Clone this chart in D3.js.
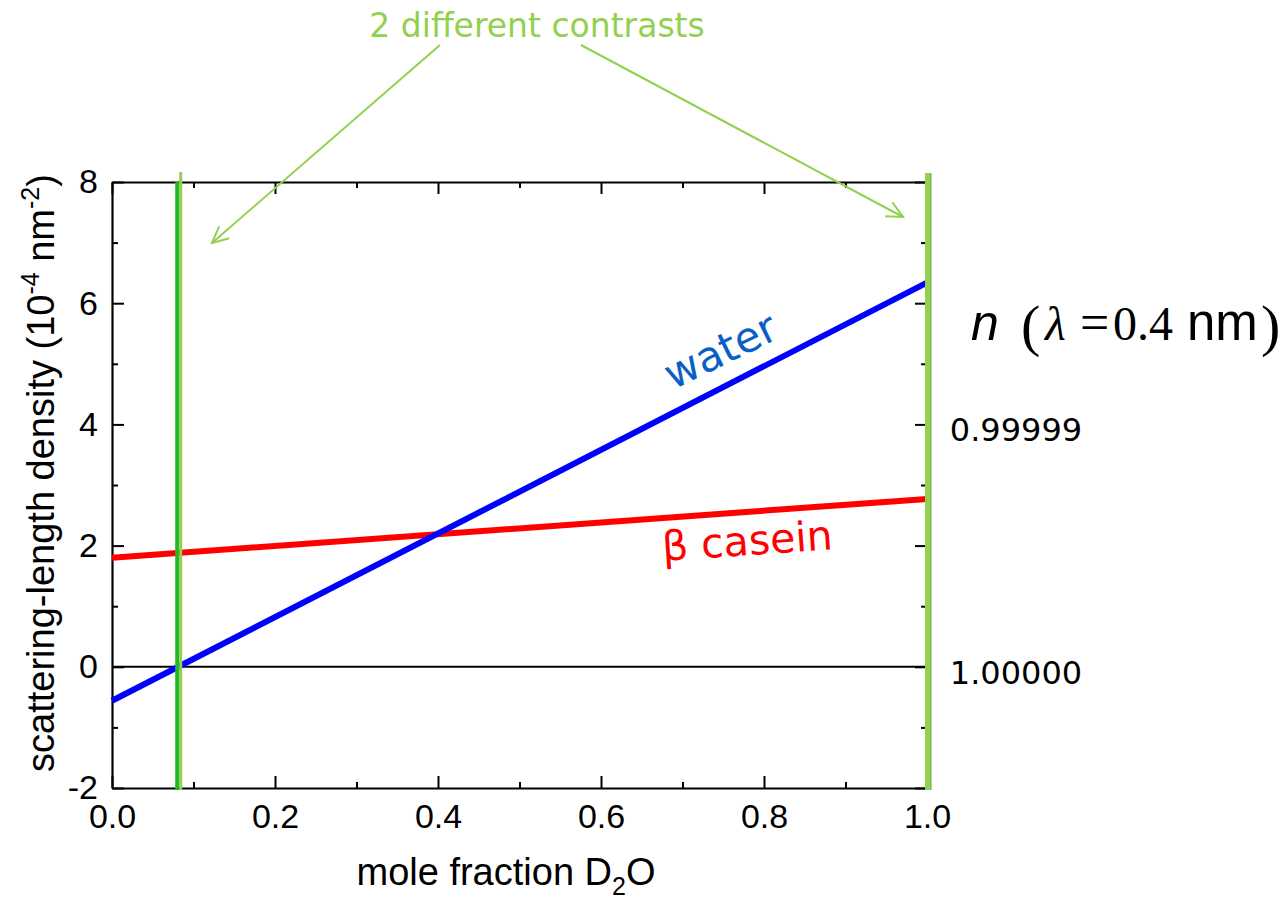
<!DOCTYPE html>
<html><head><meta charset="utf-8">
<script src="https://cdn.jsdelivr.net/npm/d3@7"></script>
<style>body{margin:0;background:#fff}</style>
</head><body>
<svg id="c" width="1283" height="904"></svg>
<script>
// ---- data ----
const xDomain = [0, 1];
const yDomain = [-2, 8];
const xTicks = [0, 0.2, 0.4, 0.6, 0.8, 1.0];
const xMinorTicks = [0.1, 0.3, 0.5, 0.7, 0.9];
const yTicks = [-2, 0, 2, 4, 6, 8];
const yMinorTicks = [-1, 1, 3, 5, 7];
const waterX = [0, 1];
const waterY = [-0.56, 6.34];
const caseinX = [0, 1];
const caseinY = [1.80, 2.77];
const contrastX = [0.08, 1.0];
const rightLabels = ["0.99999", "1.00000"];
const rightLabelY = [4, 0];

const svg = d3.select("#c");
const L = 112, R = 927, T = 182, B = 788;
const x = d3.scaleLinear().domain(xDomain).range([L, R]);
const y = d3.scaleLinear().domain(yDomain).range([B, T]);
const lab = "Liberation Sans, Arial, sans-serif";
const tah = "DejaVu Sans, Verdana, sans-serif";
const serif = "Liberation Serif, Times New Roman, serif";

// zero line
svg.append("line").attr("x1", L).attr("x2", R).attr("y1", y(0)).attr("y2", y(0))
  .attr("stroke", "#000").attr("stroke-width", 2);

// axes
function styleAxis(g){ g.attr("font-size", null).attr("font-family", null);
  g.select(".domain").attr("stroke","#000").attr("stroke-width",2.2);
  g.selectAll(".tick line").attr("stroke","#000").attr("stroke-width",2);
  g.selectAll("text").attr("font-family", lab).attr("font-size", 34).attr("fill","#000"); }

const gB = svg.append("g").attr("transform",`translate(0,${B})`)
  .call(d3.axisBottom(x).tickValues(xTicks).tickFormat(d3.format(".1f")).tickSizeInner(-12).tickSizeOuter(0));
styleAxis(gB);
gB.selectAll("text").attr("y", 40).attr("dy", null);
const gBm = svg.append("g").attr("transform",`translate(0,${B})`)
  .call(d3.axisBottom(x).tickValues(xMinorTicks).tickFormat("").tickSizeInner(-6).tickSizeOuter(0));
styleAxis(gBm); gBm.select(".domain").remove();

const gT = svg.append("g").attr("transform",`translate(0,${T})`)
  .call(d3.axisTop(x).tickValues(xTicks).tickFormat("").tickSizeInner(-12).tickSizeOuter(0));
styleAxis(gT);
const gTm = svg.append("g").attr("transform",`translate(0,${T})`)
  .call(d3.axisTop(x).tickValues(xMinorTicks).tickFormat("").tickSizeInner(-6).tickSizeOuter(0));
styleAxis(gTm); gTm.select(".domain").remove();

const gL = svg.append("g").attr("transform",`translate(${L},0)`)
  .call(d3.axisLeft(y).tickValues(yTicks).tickFormat(d => String(d)).tickSizeInner(-12).tickSizeOuter(0).tickPadding(14));
styleAxis(gL);
const gLm = svg.append("g").attr("transform",`translate(${L},0)`)
  .call(d3.axisLeft(y).tickValues(yMinorTicks).tickFormat("").tickSizeInner(-6).tickSizeOuter(0));
styleAxis(gLm); gLm.select(".domain").remove();

const gR = svg.append("g").attr("transform",`translate(${R},0)`)
  .call(d3.axisRight(y).tickValues(yTicks).tickFormat("").tickSizeInner(-12).tickSizeOuter(0));
styleAxis(gR);
const gRm = svg.append("g").attr("transform",`translate(${R},0)`)
  .call(d3.axisRight(y).tickValues(yMinorTicks).tickFormat("").tickSizeInner(-6).tickSizeOuter(0));
styleAxis(gRm); gRm.select(".domain").remove();

// data lines
const line = d3.line().x(d=>x(d[0])).y(d=>y(d[1]));
svg.append("path").datum(caseinX.map((v,i)=>[v,caseinY[i]])).attr("d", line)
  .attr("fill","none").attr("stroke","#ff0000").attr("stroke-width",6);
svg.append("path").datum(waterX.map((v,i)=>[v,waterY[i]])).attr("d", line)
  .attr("fill","none").attr("stroke","#0000ff").attr("stroke-width",6);

// contrast lines
const xl = x(contrastX[0]);
svg.append("line").attr("x1", xl).attr("x2", xl).attr("y1", T).attr("y2", B+2)
  .attr("stroke","#22b822").attr("stroke-width",4);
svg.append("line").attr("x1", xl+3.5).attr("x2", xl+3.5).attr("y1", T-10).attr("y2", B+2)
  .attr("stroke","#92d050").attr("stroke-width",3);
const xr = x(contrastX[1]);
svg.append("line").attr("x1", xr+1).attr("x2", xr+1).attr("y1", T-9).attr("y2", B+2)
  .attr("stroke","#92d050").attr("stroke-width",6);
svg.append("line").attr("x1", xr+4).attr("x2", xr+4).attr("y1", T-9).attr("y2", B+2)
  .attr("stroke","#6aa83a").attr("stroke-width",1);

// series labels
svg.append("text").attr("transform",`translate(673,390) rotate(-26)`)
  .attr("font-family", tah).attr("font-size", 42).attr("fill","#0a5fc6").text("water");
svg.append("text").attr("transform",`translate(663,561) rotate(-4)`)
  .attr("font-family", tah).attr("font-size", 41).attr("fill","#ff0000").text("β casein");

// annotation
const green = "#92d050";
svg.append("text").attr("x", 537).attr("y", 37).attr("text-anchor","middle")
  .attr("font-family", tah).attr("font-size", 33).attr("fill", green).text("2 different contrasts");
function arrow(x1,y1,x2,y2){
  svg.append("line").attr("x1",x1).attr("y1",y1).attr("x2",x2).attr("y2",y2)
    .attr("stroke",green).attr("stroke-width",2);
  const a = Math.atan2(y2-y1, x2-x1), h = 18, w = 0.45;
  const p = [[x2 - h*Math.cos(a-w), y2 - h*Math.sin(a-w)],[x2,y2],[x2 - h*Math.cos(a+w), y2 - h*Math.sin(a+w)]];
  svg.append("path").attr("d", d3.line()(p)).attr("fill","none").attr("stroke",green).attr("stroke-width",2);
}
arrow(440, 45, 212, 243);
arrow(581, 45, 903, 217);

// axis titles
const xt = svg.append("text").attr("x", 506).attr("y", 885).attr("text-anchor","middle")
  .attr("font-family", lab).attr("font-size", 38).attr("fill","#000");
xt.append("tspan").text("mole fraction D");
xt.append("tspan").attr("font-size", 25).attr("dy", 10).text("2");
xt.append("tspan").attr("dy", -10).text("O");

const yt = svg.append("text").attr("transform","translate(54,473) rotate(-90)").attr("text-anchor","middle")
  .attr("font-family", lab).attr("font-size", 38).attr("fill","#000");
yt.append("tspan").text("scattering-length density (10");
yt.append("tspan").attr("font-size", 25).attr("dy", -15).text("-4");
yt.append("tspan").attr("dy", 15).text(" nm");
yt.append("tspan").attr("font-size", 25).attr("dy", -15).text("-2");
yt.append("tspan").attr("dy", 15).text(")");

// right labels: n (λ = 0.4 nm)
const nt = svg.append("text").attr("y", 340).attr("font-family", serif).attr("font-size", 48).attr("fill","#000");
nt.append("tspan").attr("x", 971).attr("font-family", lab).attr("font-style","italic").attr("font-size", 50).text("n");
nt.append("tspan").attr("x", 1021).attr("font-size", 58).attr("dy", 5).text("(");
nt.append("tspan").attr("x", 1045).attr("dy", -5).attr("font-style","italic").text("λ");
nt.append("tspan").attr("x", 1080).attr("font-size", 52).text("=");
nt.append("tspan").attr("x", 1113).text("0.4");
nt.append("tspan").attr("x", 1187).attr("font-family", lab).attr("font-size", 51).text("nm");
nt.append("tspan").attr("x", 1261).attr("font-size", 58).attr("dy", 5).text(")");

svg.selectAll("text.rl").data(rightLabels).enter().append("text").attr("class","rl")
  .attr("x", 1016).attr("y", (d,i)=>y(rightLabelY[i]) + 17).attr("text-anchor","middle")
  .attr("font-family", tah).attr("font-size", 32).attr("fill","#000").text(d=>d);
</script>
</body></html>
